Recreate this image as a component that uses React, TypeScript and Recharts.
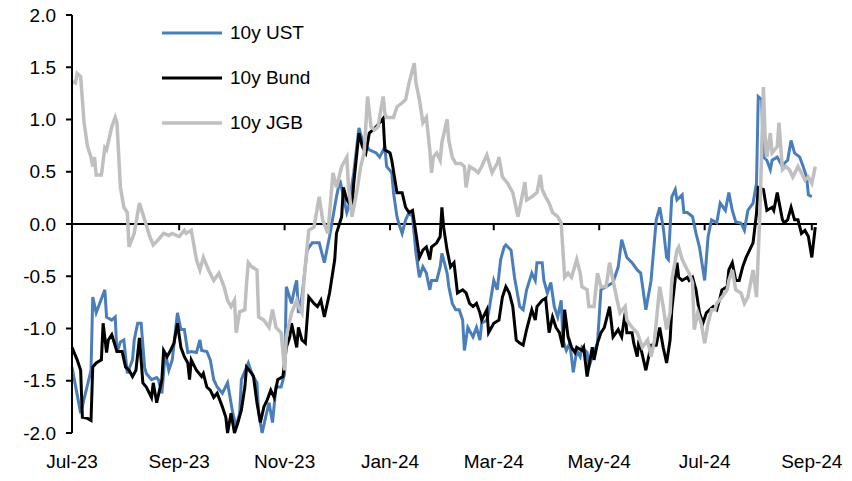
import { Legend, Line, LineChart, ReferenceLine, XAxis, YAxis } from "recharts";

// x values are calendar days since 1 Jul 2023
const TICK_DAYS = [0, 62, 123, 184, 244, 305, 366, 428];
const TICK_LABELS = ["Jul-23", "Sep-23", "Nov-23", "Jan-24", "Mar-24", "May-24", "Jul-24", "Sep-24"];
const Y_TICKS = [-2, -1.5, -1, -0.5, 0, 0.5, 1, 1.5, 2];

const UST_DAYS = [
  0, 5, 11, 12, 14, 19, 20, 23, 25, 26, 28, 30, 32, 35, 36, 38, 40, 42, 43, 46, 49, 50, 52, 54, 56, 58,
  61, 63, 65, 67, 69, 72, 74, 75, 78, 80, 82, 84, 87, 90, 93, 95, 97, 98, 101, 102, 104, 107, 108, 110,
  112, 114, 116, 118, 121, 123, 124, 127, 129, 130, 131, 133, 136, 139, 143, 146, 149, 153, 155, 159,
  160, 163, 166, 168, 172, 176, 178, 181, 182, 185, 186, 188, 189, 191, 193, 195, 197, 199, 201, 203,
  205, 207, 208, 211, 213, 214, 217, 218, 220, 222, 224, 226, 227, 229, 232, 234, 236, 237, 240, 241,
  244, 246, 248, 250, 251, 254, 256, 259, 261, 263, 266, 268, 269, 272, 273, 275, 277, 279, 281, 283,
  284, 286, 288, 290, 292, 294, 295, 298, 299, 301, 304, 306, 309, 313, 316, 318, 321, 324, 327, 329,
  332, 335, 338, 340, 342, 344, 345, 347, 349, 350, 353, 354, 356, 359, 361, 363, 366, 368, 370, 373,
  375, 378, 380, 382, 384, 387, 389, 391, 394, 396, 397, 399, 400, 402, 404, 405, 408, 411, 412, 414,
  416, 418, 421, 423, 425, 426, 428,
];
const UST_VALUES = [
  -1.37, -1.81, -1.4, -0.7, -0.85, -0.63, -0.89, -0.92, -0.89, -1.23, -1.13, -1.11, -1.43, -1.3, -1.11,
  -0.95, -0.95, -1.37, -1.43, -1.49, -1.47, -1.49, -1.62, -1.23, -1.4, -1.3, -0.85, -1.01, -1.01, -1.23,
  -1.22, -1.23, -1.11, -1.21, -1.22, -1.3, -1.49, -1.56, -1.62, -1.52, -1.81, -1.94, -1.81, -1.49, -1.37,
  -1.33, -1.43, -1.52, -1.81, -2.0, -1.85, -1.71, -1.9, -1.56, -1.56, -1.43, -0.6, -0.76, -0.6, -0.54,
  -0.85, -0.7, -0.25, -0.18, -0.18, -0.37, -0.12, 0.26, 0.42, 0.11, 0.16, 0.49, 0.92, 0.8, 0.71, 0.68,
  0.64, 0.74, 0.55, 0.49, 0.3, 0.07, 0.01, -0.09, 0.04, 0.11, 0.07, -0.28, -0.51, -0.41, -0.47, -0.63,
  -0.54, -0.54, -0.41, -0.28, -0.47, -0.6, -0.76, -0.82, -0.82, -0.92, -1.21, -0.99, -1.08, -0.99, -1.11,
  -0.95, -0.92, -0.85, -0.54, -0.63, -0.34, -0.22, -0.2, -0.25, -0.51, -0.79, -0.82, -0.63, -0.47, -0.54,
  -0.37, -0.37, -0.54, -0.66, -0.56, -0.79, -0.89, -0.73, -1.11, -1.21, -1.14, -1.42, -1.21, -1.27, -1.18,
  -1.23, -1.37, -1.27, -1.14, -0.63, -0.6, -0.56, -0.41, -0.15, -0.32, -0.37, -0.44, -0.47, -0.82, -0.54,
  0.04, 0.16, -0.03, -0.32, -0.34, 0.26, 0.33, 0.23, 0.28, 0.11, 0.11, 0.07, -0.09, -0.22, -0.54, -0.12,
  0.04, 0.01, 0.2, 0.13, 0.3, 0.13, 0.02, 0.01, -0.06, 0.13, 0.2, 0.39, 1.22, 1.19, 0.64, 0.61, 0.52,
  0.61, 0.64, 0.55, 0.58, 0.61, 0.8, 0.68, 0.64, 0.55, 0.45, 0.28, 0.26,
];

const BUND_DAYS = [
  0, 3, 5, 6, 9, 11, 12, 14, 17, 18, 20, 21, 23, 26, 29, 31, 33, 35, 37, 39, 41, 43, 46, 47, 49, 52, 53,
  55, 57, 59, 61, 63, 65, 67, 68, 69, 72, 75, 76, 78, 80, 82, 84, 87, 89, 90, 92, 94, 96, 98, 100, 101,
  104, 105, 107, 109, 111, 113, 115, 117, 119, 122, 124, 126, 127, 130, 131, 133, 135, 137, 140, 142,
  144, 146, 149, 152, 153, 156, 157, 159, 162, 163, 166, 168, 170, 172, 176, 180, 181, 184, 185, 188,
  191, 193, 195, 197, 199, 201, 203, 205, 207, 208, 211, 213, 214, 215, 217, 219, 221, 223, 226, 228,
  230, 232, 234, 236, 237, 240, 241, 244, 247, 249, 251, 253, 255, 257, 259, 261, 263, 266, 268, 269,
  272, 274, 276, 278, 280, 282, 284, 285, 287, 289, 291, 292, 295, 296, 298, 301, 302, 304, 306, 308,
  311, 313, 316, 318, 320, 321, 324, 325, 327, 328, 332, 335, 338, 340, 342, 344, 346, 347, 350, 351,
  353, 356, 357, 359, 361, 363, 365, 367, 369, 371, 373, 375, 376, 379, 380, 382, 384, 386, 388, 390,
  392, 394, 396, 397, 400, 402, 405, 406, 408, 411, 412, 414, 416, 418, 420, 422, 424, 426, 428, 430,
];
const BUND_VALUES = [
  -1.18, -1.3, -1.4, -1.85, -1.86, -1.88, -1.37, -1.33, -1.3, -0.95, -1.23, -1.11, -1.06, -1.22, -1.22,
  -1.37, -1.4, -1.46, -1.4, -1.09, -1.52, -1.56, -1.66, -1.52, -1.71, -1.49, -1.21, -1.27, -1.21, -1.14,
  -0.95, -1.18, -1.27, -1.33, -1.49, -1.3, -1.4, -1.46, -1.43, -1.56, -1.59, -1.66, -1.62, -1.75, -1.85,
  -2.0, -1.81, -2.0, -1.9, -1.78, -1.56, -1.37, -1.43, -1.46, -1.71, -1.9, -1.75, -1.68, -1.59, -1.66,
  -1.49, -1.46, -1.18, -1.08, -0.95, -1.18, -0.99, -1.11, -1.14, -0.7, -0.76, -0.79, -0.73, -0.89, -0.66,
  -0.34, -0.09, 0.07, 0.35, 0.23, 0.16, 0.39, 0.87, 0.74, 0.68, 0.87, 0.93, 1.01, 0.71, 0.68, 0.61, 0.3,
  0.3, 0.16, 0.11, 0.13, -0.09, -0.32, -0.25, -0.22, -0.34, -0.22, -0.18, -0.12, 0.16, -0.03, -0.25,
  -0.41, -0.37, -0.66, -0.63, -0.66, -0.76, -0.79, -0.76, -0.85, -0.92, -0.82, -1.04, -0.95, -0.92, -0.7,
  -0.6, -0.66, -0.79, -1.11, -1.14, -1.16, -1.01, -0.82, -0.92, -0.79, -0.73, -0.71, -1.04, -0.89, -0.99,
  -1.04, -1.18, -0.82, -1.08, -1.18, -1.23, -1.18, -1.21, -1.18, -1.46, -1.18, -1.3, -1.14, -1.04, -0.99,
  -0.79, -1.08, -1.01, -1.08, -0.85, -1.04, -1.04, -1.14, -1.27, -1.11, -1.4, -1.16, -1.16, -0.99, -1.18,
  -1.33, -1.11, -0.82, -0.37, -0.51, -0.54, -0.51, -0.54, -0.51, -0.63, -0.85, -0.95, -0.85, -0.82, -0.79,
  -0.82, -0.7, -0.63, -0.6, -0.44, -0.37, -0.54, -0.54, -0.41, -0.32, -0.25, -0.18, 0.1, 0.35, 0.33, 0.13,
  0.16, 0.13, 0.3, 0.04, 0.01, 0.04, 0.16, 0.04, 0.04, -0.09, -0.06, -0.12, -0.32, -0.03,
];

const JGB_DAYS = [
  0, 2, 3, 5, 7, 9, 11, 12, 13, 14, 17, 19, 20, 23, 25, 26, 28, 30, 32, 33, 36, 39, 42, 45, 47, 50, 53,
  56, 58, 62, 65, 66, 69, 72, 74, 76, 79, 82, 85, 88, 90, 92, 94, 95, 97, 100, 101, 102, 104, 107, 108,
  111, 114, 116, 118, 121, 123, 124, 127, 130, 131, 133, 134, 136, 137, 140, 143, 145, 148, 151, 153,
  156, 159, 160, 162, 165, 167, 169, 171, 173, 175, 177, 180, 181, 182, 186, 188, 191, 193, 195, 198,
  199, 201, 203, 205, 207, 208, 209, 211, 213, 214, 217, 218, 220, 222, 225, 227, 228, 230, 233, 235,
  237, 240, 243, 246, 247, 249, 252, 255, 258, 260, 262, 263, 266, 269, 271, 272, 274, 276, 278, 281,
  283, 285, 287, 289, 292, 294, 295, 298, 299, 302, 304, 306, 309, 311, 313, 315, 317, 320, 321, 324,
  327, 330, 333, 335, 337, 340, 342, 344, 346, 347, 350, 351, 353, 356, 357, 359, 360, 362, 364, 366,
  368, 370, 372, 373, 376, 379, 380, 382, 384, 387, 389, 391, 394, 396, 398, 400, 401, 402, 404, 405,
  408, 409, 411, 413, 415, 417, 420, 422, 424, 426, 428, 430,
];
const JGB_VALUES = [
  1.36, 1.35, 1.44, 1.41, 0.97, 0.74, 0.64, 0.55, 0.64, 0.47, 0.47, 0.73, 0.71, 0.93, 1.02, 0.97, 0.35,
  0.16, 0.11, -0.22, -0.09, 0.2, 0.04, -0.12, -0.2, -0.15, -0.09, -0.11, -0.09, -0.12, -0.06, -0.09,
  -0.06, -0.34, -0.44, -0.32, -0.44, -0.54, -0.47, -0.6, -0.73, -0.79, -0.73, -1.04, -0.84, -0.82, -0.56,
  -0.37, -0.41, -0.44, -0.89, -0.92, -0.99, -0.82, -0.99, -1.04, -1.4, -1.08, -0.85, -0.73, -0.79, -0.85,
  -0.58, -0.22, -0.06, -0.03, 0.26, 0.04, -0.09, 0.49, 0.35, 0.55, 0.64, 0.35, 0.07, 0.33, 0.55, 0.68,
  1.22, 0.93, 0.9, 0.93, 1.22, 1.06, 1.02, 1.02, 1.12, 1.16, 1.19, 1.35, 1.54, 1.35, 1.19, 0.97, 1.02,
  0.71, 0.49, 0.64, 0.68, 0.61, 0.78, 1.0, 0.8, 0.64, 0.58, 0.58, 0.55, 0.35, 0.55, 0.52, 0.49, 0.55,
  0.66, 0.49, 0.58, 0.64, 0.45, 0.39, 0.3, 0.07, 0.23, 0.4, 0.23, 0.26, 0.3, 0.47, 0.33, 0.26, 0.2, 0.11,
  0.07, 0.01, -0.51, -0.47, -0.51, -0.34, -0.47, -0.6, -0.63, -0.79, -0.79, -0.47, -0.6, -0.6, -0.37,
  -0.54, -0.7, -0.85, -0.79, -0.92, -0.99, -1.04, -1.18, -1.11, -1.27, -1.11, -0.6, -0.79, -1.01, -0.85,
  -0.54, -0.25, -0.22, -0.34, -0.44, -0.47, -0.56, -1.01, -0.85, -0.95, -1.14, -0.95, -0.82, -0.82,
  -0.76, -0.7, -0.63, -0.54, -0.44, -0.63, -0.66, -0.76, -0.7, -0.44, -0.7, 0.11, 1.31, 0.83, 0.64, 0.87,
  0.68, 0.74, 0.97, 0.52, 0.55, 0.52, 0.45, 0.55, 0.49, 0.42, 0.45, 0.39, 0.55,
];

const toPoints = (days: number[], values: number[]) => days.map((day, i) => ({ day, value: values[i] }));

const SERIES = [
  { name: "10y UST", color: "#4A7EBB", width: 3, data: toPoints(UST_DAYS, UST_VALUES) },
  { name: "10y Bund", color: "#000000", width: 3, data: toPoints(BUND_DAYS, BUND_VALUES) },
  { name: "10y JGB", color: "#BFBFBF", width: 3.5, data: toPoints(JGB_DAYS, JGB_VALUES) },
];

const FONT = "'Liberation Sans', Arial, sans-serif";

function formatTick(day: number): string {
  const i = TICK_DAYS.indexOf(day);
  return i >= 0 ? TICK_LABELS[i] : "";
}

function LegendBox() {
  return (
    <div style={{ fontFamily: FONT, fontSize: 19, color: "#000" }}>
      {SERIES.map((s) => (
        <div key={s.name} style={{ display: "flex", alignItems: "center", height: 45 }}>
          <svg width={60} height={6}>
            <line x1={0} x2={60} y1={3} y2={3} stroke={s.color} strokeWidth={s.width} />
          </svg>
          <span style={{ marginLeft: 8 }}>{s.name}</span>
        </div>
      ))}
    </div>
  );
}

export default function App() {
  return (
    <div style={{ position: "absolute", left: 0, top: 0, background: "#fff" }}>
      <LineChart width={852} height={481} margin={{ top: 15, right: 35, bottom: 18, left: 12 }}>
        <XAxis
          type="number"
          dataKey="day"
          domain={[0, 431]}
          ticks={TICK_DAYS}
          tickFormatter={formatTick}
          interval={0}
          axisLine={false}
          tickLine={false}
          tickSize={0}
          tickMargin={22}
          height={30}
          tick={{ fontSize: 19, fill: "#000", fontFamily: FONT }}
        />
        <YAxis
          type="number"
          domain={[-2, 2]}
          ticks={Y_TICKS}
          interval={0}
          tickFormatter={(v: number) => v.toFixed(1)}
          width={60}
          stroke="#000"
          axisLine={{ stroke: "#000", strokeWidth: 2 }}
          tickLine={{ stroke: "#000", strokeWidth: 2 }}
          tickSize={6}
          tickMargin={10}
          tick={{ fontSize: 19, fill: "#000", fontFamily: FONT }}
        />
        <ReferenceLine y={0} stroke="#000" strokeWidth={2} />
        {TICK_DAYS.slice(1).map((d) => (
          <ReferenceLine
            key={d}
            segment={[
              { x: d, y: 0 },
              { x: d, y: -0.06 },
            ]}
            stroke="#000"
            strokeWidth={2}
          />
        ))}
        {SERIES.map((s) => (
          <Line
            key={s.name}
            data={s.data}
            dataKey="value"
            name={s.name}
            type="linear"
            stroke={s.color}
            strokeWidth={s.width}
            dot={false}
            activeDot={false}
            isAnimationActive={false}
          />
        ))}
        <Legend
          layout="vertical"
          align="center"
          verticalAlign="middle"
          content={() => <LegendBox />}
          wrapperStyle={{ left: 162, top: 10, width: 200 }}
        />
      </LineChart>
    </div>
  );
}
